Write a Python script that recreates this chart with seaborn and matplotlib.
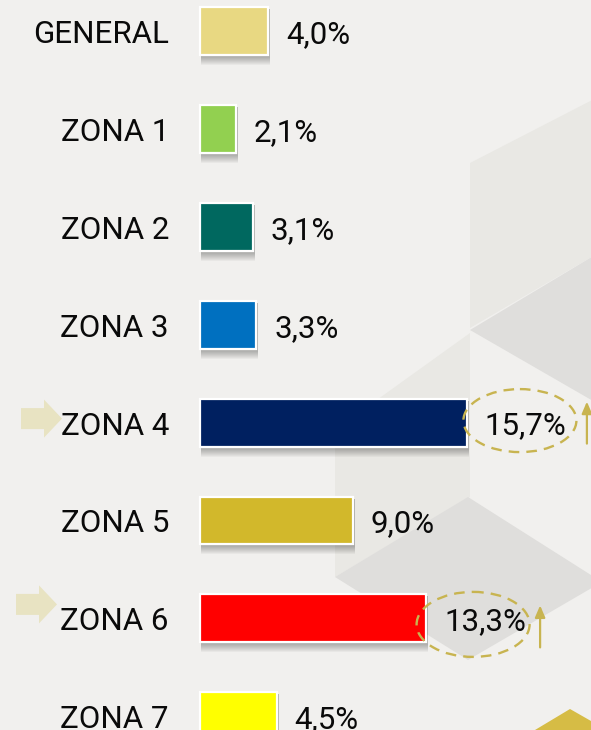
import matplotlib
matplotlib.use("Agg")
import matplotlib.pyplot as plt
from matplotlib.patches import Polygon, Rectangle, Ellipse
import seaborn as sns
import pandas as pd

# Data
categories = ["GENERAL", "ZONA 1", "ZONA 2", "ZONA 3", "ZONA 4", "ZONA 5", "ZONA 6", "ZONA 7"]
values = [4.0, 2.1, 3.1, 3.3, 15.7, 9.0, 13.3, 4.5]
labels = ["4,0%", "2,1%", "3,1%", "3,3%", "15,7%", "9,0%", "13,3%", "4,5%"]
colors = ["#e8d882", "#92d050", "#00685f", "#0070c0", "#002060", "#d2b82b", "#ff0000", "#ffff00"]
highlighted = ["ZONA 4", "ZONA 6"]

BG = "#f1f0ee"
GOLD = "#c8b450"
ARROW_BEIGE = "#e8e3c2"
FONT = ["Roboto", "DejaVu Sans"]
FS = 22.5

W, H = 591, 730
fig = plt.figure(figsize=(W / 100, H / 100), dpi=100, facecolor=BG)

# Decorative isometric background, in pixel coordinates
bg = fig.add_axes([0, 0, 1, 1], zorder=0)
bg.set_xlim(0, W)
bg.set_ylim(H, 0)
bg.axis("off")
bg.add_patch(Rectangle((0, 0), W, H, color=BG))
bg.add_patch(Polygon([(470, 163), (600, 96), (600, 252), (470, 328)], color="#e9e8e4", lw=0))
bg.add_patch(Polygon([(470, 330), (600, 252), (600, 405)], color="#dfdedc", lw=0))
bg.add_patch(Polygon([(470, 333), (470, 497), (335, 577), (335, 430)], color="#e9e8e4", lw=0))
bg.add_patch(Polygon([(468, 497), (602, 582), (468, 660), (335, 577)], color="#dfdedc", lw=0))
bg.add_patch(Polygon([(530, 733), (570, 709), (612, 733)], color="#d6bc45", lw=0))

# Main chart axes
ax = fig.add_axes([0, 0, 1, 1], zorder=1)
ax.patch.set_alpha(0)

df = pd.DataFrame({"zona": categories, "valor": values})
sns.barplot(data=df, x="valor", y="zona", hue="zona", palette=colors, legend=False,
            orient="h", width=0.49, saturation=1, edgecolor="white", linewidth=1.6,
            ax=ax, zorder=3)

PX_X = 1 / 17.0    # data units per pixel (x)
PX_Y = 1 / 97.9    # data units per pixel (y)
ax.set_xlim(-200 * PX_X, (W - 200) * PX_X)
ax.set_ylim((H - 31) * PX_Y, -31 * PX_Y)
ax.axis("off")

# Soft drop shadow under each bar
for bar in list(ax.patches):
    x0, y0 = bar.get_x(), bar.get_y()
    w, h = bar.get_width(), bar.get_height()
    for k in range(1, 9):
        ax.add_patch(Rectangle((x0 + 1 * PX_X, y0 + 2 * PX_Y), w + 1 * PX_X, h + k * PX_Y,
                               color="black", alpha=0.035, lw=0, zorder=2))

# Category labels and value labels
for i, (cat, v, lab) in enumerate(zip(categories, values, labels)):
    ax.text(-31 * PX_X, i + 12 * PX_Y, cat, ha="right", va="baseline",
            fontsize=FS, color="#0a0a0a", family=FONT, zorder=5)
    ax.text(v + 18 * PX_X, i + 12 * PX_Y, lab, ha="left", va="baseline",
            fontsize=FS, color="#0a0a0a", family=FONT, zorder=5)

# Highlight markers for the zones that rose
marks = {"ZONA 4": dict(arrow_dx=120, arrow_y=(21, -21), left=(21, -4), ell=(53, -2, 113, 63)),
         "ZONA 6": dict(arrow_dx=114, arrow_y=(29, -13), left=(16, -14), ell=(47, 6, 113, 65))}
for cat in highlighted:
    i = categories.index(cat)
    v = values[i]
    m = marks[cat]
    dx, dy, ew, eh = m["ell"]
    ax.add_patch(Ellipse((v + dx * PX_X, i + dy * PX_Y), ew * PX_X, eh * PX_Y,
                         fill=False, ec=GOLD, lw=1.7, ls=(0, (4.5, 3)), zorder=4))
    ax_x = v + m["arrow_dx"] * PX_X
    y_tail, y_head = m["arrow_y"]
    ax.annotate("", xy=(ax_x, i + y_head * PX_Y), xytext=(ax_x, i + y_tail * PX_Y),
                arrowprops=dict(arrowstyle="-|>,head_length=0.7,head_width=0.3",
                                color=GOLD, lw=1.6, shrinkA=0, shrinkB=0), zorder=4)
    lx, ly = m["left"]
    xs = lambda p: (p - 200) * PX_X
    cy = i + ly * PX_Y
    pts = [(xs(lx), cy - 10.5 * PX_Y), (xs(lx + 23), cy - 10.5 * PX_Y), (xs(lx + 23), cy - 19 * PX_Y),
           (xs(lx + 41), cy), (xs(lx + 23), cy + 19 * PX_Y), (xs(lx + 23), cy + 10.5 * PX_Y),
           (xs(lx), cy + 10.5 * PX_Y)]
    ax.add_patch(Polygon(pts, color=ARROW_BEIGE, lw=0, zorder=4))

fig.savefig("out.png", dpi=100, facecolor=BG)
